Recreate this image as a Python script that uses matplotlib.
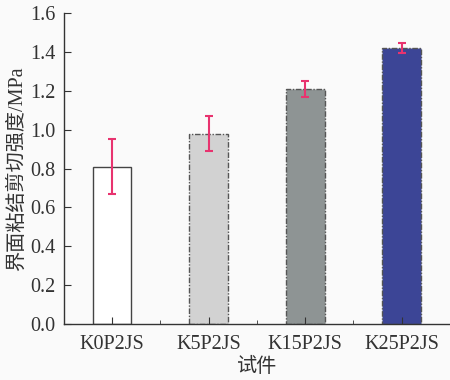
import numpy as np
import matplotlib.pyplot as plt
from matplotlib.ticker import MultipleLocator, FixedLocator

specimens = ['K0P2JS', 'K5P2JS', 'K15P2JS', 'K25P2JS']
strength = [0.81, 0.98, 1.21, 1.42]
errors = [0.14, 0.09, 0.04, 0.025]
fill_colors = ['#ffffff', '#d2d2d2', '#8e9494', '#3c4596']
edge_styles = ['-', (0, (4, 1.2, 1, 1.2)), (0, (4, 1.2, 1, 1.2)), (0, (4, 1.2, 1, 1.2))]

plt.rcParams['font.family'] = ['Liberation Serif', 'Noto Sans CJK SC']
plt.rcParams['font.size'] = 14.5

fig = plt.figure(figsize=(4.5, 3.8), dpi=100, facecolor='#fafafa')
ax = fig.add_axes([0.142, 0.147, 0.858, 0.819])
ax.set_facecolor('#fafafa')

x = np.arange(len(specimens))
for xi, val, err, fc, ls in zip(x, strength, errors, fill_colors, edge_styles):
    ax.bar(xi, val, width=0.4, color=fc, edgecolor='#444444' if ls == '-' else '#555555',
           linewidth=1.0, linestyle=ls)
    ax.errorbar(xi, val, yerr=err, fmt='none', ecolor='#e8336f', elinewidth=1.5,
                capsize=3, capthick=1.5)

ax.set_xlim(-0.5, 3.5)
ax.set_ylim(0, 1.6)
ax.yaxis.set_major_locator(MultipleLocator(0.2))
ax.yaxis.set_major_formatter(plt.FormatStrFormatter('%.1f'))
ax.set_xticks(x)
ax.set_xticklabels(specimens)
ax.xaxis.set_minor_locator(FixedLocator([0.5, 1.5, 2.5]))

ax.tick_params(axis='both', which='major', direction='in', length=5, color='#333333',
               labelcolor='#333333', pad=6)
ax.tick_params(axis='x', which='major', pad=8)
ax.tick_params(axis='x', which='minor', direction='in', length=3, color='#333333')
for side in ['top', 'right']:
    ax.spines[side].set_visible(False)
for side in ['left', 'bottom']:
    ax.spines[side].set_color('#333333')
    ax.spines[side].set_linewidth(1.0)

ax.set_ylabel('界面粘结剪切强度/MPa', color='#333333', labelpad=2)
ax.set_xlabel('试件', color='#333333', labelpad=3)

fig.savefig('out.png', dpi=100, facecolor=fig.get_facecolor())
